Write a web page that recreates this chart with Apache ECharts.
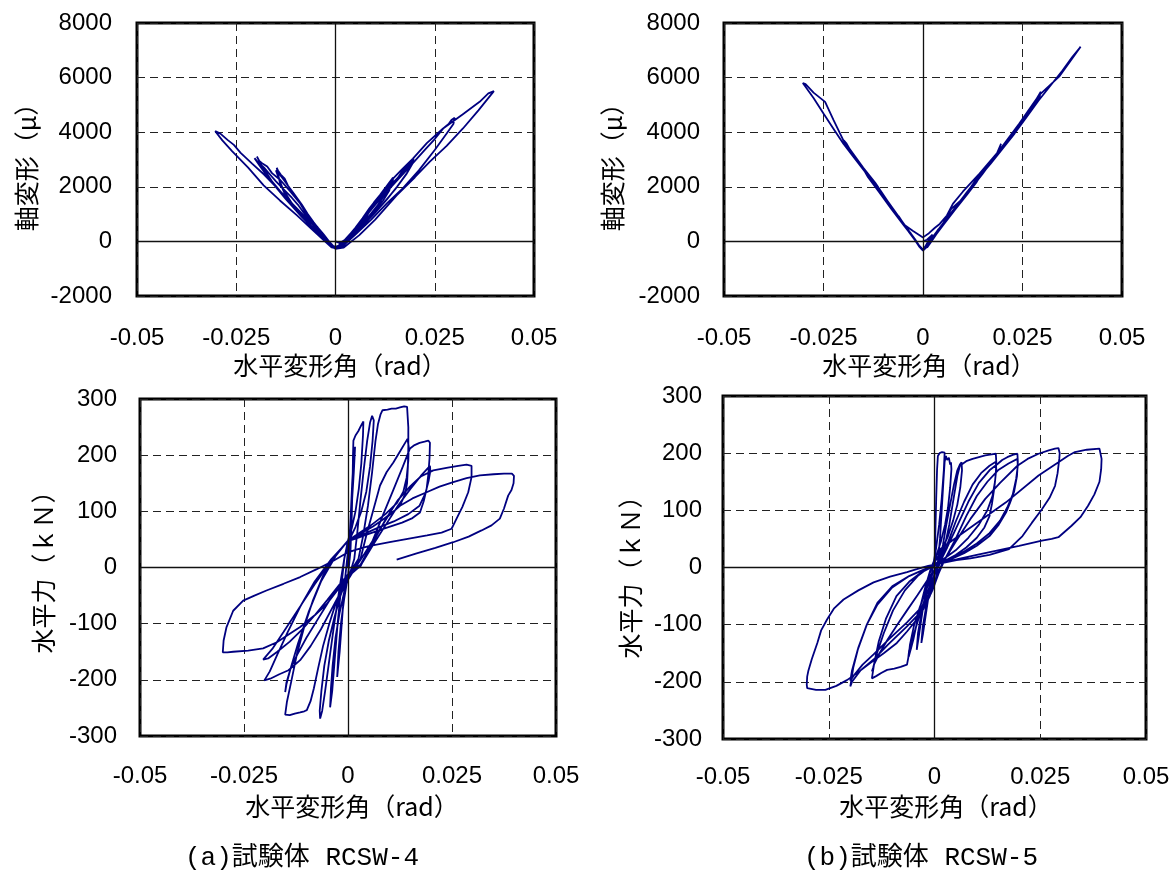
<!DOCTYPE html>
<html><head><meta charset="utf-8">
<script src="https://cdn.jsdelivr.net/npm/echarts@6/dist/echarts.min.js"></script>
<style>html,body{margin:0;padding:0;background:#fff}#c{width:1175px;height:873px}</style>
</head><body><div id="c"></div>
<script>
// tick values
const driftTicks = [-0.05, -0.025, 0, 0.025, 0.05];
const axialTicks = [-2000, 0, 2000, 4000, 6000, 8000];
const forceTicks = [-300, -200, -100, 0, 100, 200, 300];
const captions = ['(a)試験体 RCSW-4', '(b)試験体 RCSW-5'];
const xName = '水平変形角（rad）';
const axialName = '軸変形（μ）';
const forceName = '水平力（ｋＮ）';

// RCSW-4 : drift (rad) vs axial strain (μ)
const rcsw4Axial = [
[0,0],[0.0008,-50],[0.0015,-20],[0.0022,40],[0.0015,-60],[0.0008,-150],[0,-200],[-0.0008,-150],[-0.0016,-60],[-0.0026,50],
[-0.0018,-80],[-0.001,-180],[0,-240],[0.001,-200],[0.002,-80],[0.003,60],[0.0037,180],
[0.0028,80],[0.0018,-80],[0.0008,-200],[0,-250],[-0.001,-170],[-0.002,-20],[-0.0032,170],[-0.0043,360],
[-0.0033,250],[-0.0022,80],[-0.001,-120],[0,-250],[0.0012,-200],[0.0025,-40],[0.004,200],[0.0052,400],[0.0061,560],
[0.005,450],[0.0038,250],[0.0025,50],[0.0012,-150],[0,-260],[-0.0012,-150],[-0.0025,30],[-0.004,260],[-0.0055,560],[-0.0067,820],
[-0.0058,720],[-0.0045,520],[-0.003,260],[-0.0015,-20],[0,-260],
[0.0012,-220],[0.003,0],[0.005,300],[0.0075,700],[0.0098,1100],[0.012,1500],[0.0135,1850],[0.0145,2338],
[0.0142,2300],[0.0135,2150],[0.0125,1950],[0.0112,1700],[0.0098,1450],[0.0085,1150],[0.007,850],[0.0055,550],[0.004,300],[0.0025,50],[0.0012,-150],[0,-270],
[-0.0012,-180],[-0.003,50],[-0.005,350],[-0.0075,750],[-0.01,1150],[-0.0125,1650],[-0.014,2150],[-0.0148,2697],
[-0.0145,2600],[-0.0138,2450],[-0.0128,2300],[-0.012,2050],[-0.0105,1750],[-0.009,1450],[-0.0075,1100],[-0.006,800],[-0.0045,500],[-0.003,220],[-0.0015,-50],[0,-260],
[0.0012,-200],[0.003,50],[0.0055,400],[0.008,850],[0.0105,1300],[0.0128,1800],[0.014,2150],[0.0146,2280],
[0.013,2000],[0.0115,1750],[0.01,1480],[0.0085,1200],[0.0068,850],[0.005,500],[0.003,150],[0.0015,-100],[0,-260],
[-0.0012,-180],[-0.0035,150],[-0.006,550],[-0.0085,950],[-0.011,1400],[-0.0132,1900],[-0.0145,2400],[-0.015,2600],
[-0.0142,2480],[-0.013,2250],[-0.0115,1950],[-0.01,1650],[-0.0085,1350],[-0.007,1000],[-0.0055,700],[-0.004,420],[-0.0025,150],[-0.001,-120],[0,-260],
[0.0015,-180],[0.004,150],[0.007,600],[0.01,1050],[0.013,1550],[0.0155,2000],[0.018,2500],[0.0197,3034],
[0.0192,2980],[0.0185,2850],[0.0172,2650],[0.0158,2350],[0.0145,2150],[0.013,1850],[0.0112,1550],[0.0095,1250],[0.0078,950],[0.006,600],[0.004,300],[0.002,0],[0.0005,-250],
[-0.001,-200],[-0.004,250],[-0.008,850],[-0.012,1500],[-0.016,2200],[-0.0185,2750],[-0.0198,3108],
[-0.0192,2950],[-0.0185,2867],[-0.0178,2800],[-0.0172,2741],[-0.016,2500],[-0.0139,2250],[-0.0115,1850],[-0.0089,1391],[-0.0075,1050],[-0.0064,774],[-0.0039,405],[-0.002,50],[0,-270],
[0.0015,-200],[0.0045,200],[0.008,750],[0.0115,1300],[0.015,1900],[0.0178,2450],[0.0198,2950],
[0.0185,2800],[0.017,2550],[0.0155,2300],[0.014,2080],[0.012,1750],[0.01,1400],[0.008,1000],[0.006,650],[0.004,320],[0.002,0],[0.0005,-260],
[-0.001,-200],[-0.0045,300],[-0.0085,900],[-0.0125,1550],[-0.0165,2250],[-0.019,2750],[-0.0204,3050],
[-0.0195,2900],[-0.018,2700],[-0.0165,2450],[-0.015,2200],[-0.013,1900],[-0.011,1600],[-0.0095,1350],[-0.008,1050],[-0.0065,800],[-0.005,550],[-0.003,200],[-0.0012,-100],[0,-270],
[0.0015,-220],[0.005,250],[0.009,800],[0.013,1400],[0.017,1950],[0.021,2600],[0.025,3350],[0.028,3950],[0.0297,4300],[0.030,4525],
[0.0292,4450],[0.0285,4300],[0.0272,4150],[0.025,3750],[0.0225,3350],[0.02,2950],[0.0175,2550],[0.015,2150],[0.0125,1750],[0.01,1350],[0.0075,900],[0.005,450],[0.0025,50],[0.0005,-260],
[-0.001,-220],[-0.003,50],[-0.006,450],[-0.0097,954],[-0.014,1500],[-0.0181,2055],[-0.022,2700],[-0.026,3300],[-0.0285,3700],[-0.0303,4037],
[-0.0298,4000],[-0.029,3950],[-0.0285,3900],[-0.0272,3720],[-0.0256,3536],[-0.0239,3240],[-0.021,2850],[-0.018,2450],[-0.015,2000],[-0.012,1550],[-0.009,1100],[-0.006,650],[-0.003,200],[-0.001,-150],[0,-270],
[0.002,-230],[0.006,230],[0.01,800],[0.0154,1688],[0.02,2350],[0.0237,2911],[0.028,3500],[0.0321,4136],[0.036,4800],[0.0399,5505],
[0.0385,5420],[0.0363,5113],[0.032,4650],[0.0271,4136],[0.023,3600],[0.0195,3034],[0.0165,2600],[0.0137,2177],[0.01,1450],[0.007,709],[0.0045,300],[0.0025,0],[0.001,-200]
];

// RCSW-5 : drift (rad) vs axial strain (μ)
const rcsw5Axial = [
[0,0],[0.001,60],[0.0024,250],[0.0015,50],[0.0005,-200],[0,-300],[-0.001,-150],[-0.002,80],[-0.0031,300],
[-0.002,50],[-0.001,-180],[0,-320],
[0.001,-150],[0.002,60],[0.003,260],[0.0039,450],[0.003,230],[0.002,30],[0.001,-180],[0,-320],
[-0.001,-160],[-0.002,60],[-0.003,270],[-0.0042,510],[-0.003,250],[-0.002,40],[-0.001,-180],[0,-330],
[0.001,-140],[0.0025,150],[0.004,450],[0.0055,750],[0.0064,930],[0.005,620],[0.0035,320],[0.002,40],[0.001,-170],[0,-330],
[-0.001,-150],[-0.0025,170],[-0.004,480],[-0.0052,720],[-0.0061,920],[-0.005,660],[-0.0035,340],[-0.002,40],[-0.001,-180],[0,-330],
[0.001,-130],[0.003,270],[0.005,650],[0.0071,1190],[0.0075,1150],[0.0095,1500],[0.012,1980],[0.0135,2300],[0.0146,2533],
[0.0148,2450],[0.0135,2200],[0.012,1900],[0.01,1520],[0.008,1150],[0.006,780],[0.004,400],[0.002,20],[0.001,-200],[0,-340],
[-0.001,-150],[-0.003,250],[-0.005,660],[-0.0075,1129],[-0.01,1650],[-0.0125,2150],[-0.014,2450],[-0.015,2660],
[-0.0145,2550],[-0.013,2250],[-0.011,1850],[-0.009,1450],[-0.007,1050],[-0.005,650],[-0.003,250],[-0.0015,-60],[0,-340],
[0.0012,-120],[0.004,450],[0.007,1030],[0.01,1600],[0.0125,2050],[0.0145,2420],[0.0135,2180],[0.011,1700],[0.008,1150],[0.005,580],[0.0025,100],[0.001,-200],[0,-340],
[-0.001,-140],[-0.004,470],[-0.0075,1150],[-0.011,1880],[-0.0148,2600],[-0.0138,2350],[-0.011,1800],[-0.008,1200],[-0.005,620],[-0.0025,150],[-0.001,-180],[0,-340],
[0.001,-120],[0.004,460],[0.008,1220],[0.012,1980],[0.016,2740],[0.0185,3200],[0.0196,3576],
[0.019,3300],[0.017,2880],[0.015,2480],[0.012,1920],[0.009,1350],[0.006,780],[0.003,220],[0.001,-200],[0,-340],
[-0.001,-140],[-0.004,480],[-0.008,1290],[-0.012,2100],[-0.015,2660],[-0.0175,3150],[-0.0192,3581],[-0.0199,3700],
[-0.019,3450],[-0.017,3050],[-0.0145,2550],[-0.012,2050],[-0.009,1450],[-0.006,850],[-0.003,250],[-0.001,-170],[0,-340],
[0.001,-120],[0.005,650],[0.009,1410],[0.013,2170],[0.017,2930],[0.0196,3420],
[0.0185,3150],[0.016,2680],[0.013,2110],[0.01,1540],[0.007,980],[0.004,400],[0.0015,-120],[0,-340],
[-0.001,-140],[-0.005,680],[-0.009,1500],[-0.013,2300],[-0.017,3050],[-0.0199,3620],
[-0.019,3400],[-0.0165,2950],[-0.0135,2400],[-0.0105,1800],[-0.0075,1180],[-0.0045,560],[-0.002,50],[0,-340],
[0.001,-120],[0.005,650],[0.01,1600],[0.015,2550],[0.0196,3400],[0.023,4050],[0.0265,4720],[0.0296,5479],
[0.0293,5300],[0.027,4850],[0.024,4250],[0.021,3680],[0.018,3100],[0.015,2500],[0.012,1930],[0.009,1380],[0.006,800],[0.003,230],[0.001,-180],[0,-340],
[-0.001,-140],[-0.005,680],[-0.0075,1129],[-0.01,1700],[-0.0142,2478],[-0.0175,3100],[-0.02,3581],[-0.0225,4130],[-0.025,4684],[-0.0275,5250],[-0.0302,5800],
[-0.0295,5760],[-0.0275,5450],[-0.0246,5110],[-0.0225,4450],[-0.02,3700],[-0.0175,3200],[-0.015,2700],[-0.012,2150],[-0.009,1500],[-0.0065,950],[-0.005,640],[-0.0025,380],[0,147],
[0.0015,300],[0.003,500],[0.0042,640],[0.006,950],[0.0075,1375],[0.01,1820],[0.0142,2480],[0.0192,3338],[0.0242,4320],[0.0292,5361],[0.0342,6035],[0.037,6600],[0.0396,7132],
[0.0392,7080],[0.0375,6750],[0.035,6250],[0.032,5700],[0.029,5150],[0.026,4550],[0.023,3950],[0.02,3400],[0.017,2850],[0.014,2330],[0.011,1800],[0.008,1200],[0.005,620],[0.0025,80],[0.001,-230]
];

// RCSW-4 : drift (rad) vs lateral force (kN)
const rcsw4Force = [
[0,0],[0.0003,40],[0.0007,100],[0.001,150],[0.0013,190],[0.0017,215],
[0.0014,170],[0.0009,110],[0.0004,60],[0,30],[-0.0007,-20],[-0.0014,-90],[-0.002,-150],[-0.0026,-195],
[-0.0023,-150],[-0.0017,-100],[-0.0009,-55],[0,-15],[0.0006,30],
[0.0009,90],[0.0011,150],[0.0012,200],[0.0013,226],[0.0018,235],[0.0025,243],[0.0031,252],[0.0037,260],
[0.0036,235],[0.0032,185],[0.0026,140],[0.0018,100],[0.0009,70],[0,48],[-0.0009,15],[-0.0017,-40],[-0.0025,-100],[-0.0032,-165],[-0.0038,-220],[-0.0043,-249],
[-0.0041,-215],[-0.0037,-175],[-0.003,-125],[-0.002,-80],[-0.0008,-40],[0.0005,-10],[0.0015,15],
[0.0022,60],[0.003,120],[0.0038,175],[0.0046,225],[0.0053,258],[0.0058,270],[0.0061,273],[0.0062,262],
[0.0059,225],[0.0053,180],[0.0044,135],[0.0032,100],[0.0018,72],[0.0005,52],[-0.0008,20],[-0.002,-35],[-0.0033,-100],[-0.0045,-165],[-0.0055,-220],[-0.0062,-255],[-0.0067,-269],[-0.0068,-255],
[-0.0064,-220],[-0.0057,-175],[-0.0046,-130],[-0.0033,-90],[-0.0018,-50],[-0.0003,-20],[0.0012,0],[0.0025,15],
[0.0036,55],[0.0048,110],[0.0058,170],[0.0066,225],[0.0072,255],[0.0078,272],[0.0083,280],[0.0095,281],[0.0105,283],[0.0115,283],[0.0125,285],[0.0135,287],[0.0142,286],[0.0145,283],
[0.0145,250],[0.0145,215],[0.0144,180],[0.0142,150],[0.0137,130],[0.0126,112],[0.011,100],[0.0085,86],[0.006,73],[0.003,60],[0,48],[-0.003,22],[-0.006,-15],[-0.0085,-60],[-0.0105,-105],[-0.0123,-155],[-0.0137,-205],[-0.0147,-240],[-0.0151,-262],
[-0.014,-263],[-0.0128,-260],[-0.0115,-258],[-0.0105,-256],[-0.0099,-254],
[-0.009,-238],[-0.0082,-215],[-0.0072,-180],[-0.006,-140],[-0.0045,-100],[-0.003,-65],[-0.0012,-30],[0.0005,-8],[0.002,5],[0.003,15],
[0.0045,60],[0.006,100],[0.0077,146],[0.0093,170],[0.0109,187],[0.0126,208],[0.0143,229],[0.0146,215],
[0.0145,190],[0.0141,160],[0.0133,135],[0.0118,115],[0.009,95],[0.0055,75],[0.002,58],[0,48],[-0.003,20],[-0.0065,-25],[-0.0095,-80],[-0.012,-135],[-0.0138,-180],[-0.0148,-208],[-0.0151,-222],[-0.0148,-205],
[-0.0138,-180],[-0.0122,-155],[-0.01,-125],[-0.0075,-95],[-0.005,-65],[-0.0025,-35],[0,-12],[0.003,2],
[0.0055,40],[0.0085,95],[0.011,140],[0.0132,180],[0.0149,212],[0.016,218],[0.0172,222],[0.0184,224],[0.0193,226],[0.0197,222],
[0.0196,195],[0.0193,165],[0.0189,140],[0.0182,118],[0.0173,98],[0.0155,88],[0.013,80],[0.009,70],[0.005,60],[0.002,52],[0,47],[-0.004,15],[-0.008,-25],[-0.0115,-70],[-0.0145,-115],[-0.017,-155],[-0.0188,-185],[-0.0201,-201],
[-0.0187,-198],[-0.0165,-190],[-0.0143,-183],[-0.0115,-165],[-0.009,-140],[-0.0065,-110],[-0.004,-75],[-0.0015,-40],[0.001,-10],[0.003,3],
[0.006,40],[0.009,75],[0.012,110],[0.015,140],[0.0175,163],[0.0197,181],[0.0198,172],
[0.0194,155],[0.0186,132],[0.0172,110],[0.0145,95],[0.011,82],[0.007,70],[0.003,57],[0,48],[-0.004,12],[-0.008,-30],[-0.012,-75],[-0.0155,-115],[-0.0182,-145],[-0.0204,-164],
[-0.0192,-162],[-0.017,-150],[-0.014,-132],[-0.011,-110],[-0.008,-85],[-0.005,-58],[-0.002,-30],[0.001,-5],[0.003,5],
[0.006,45],[0.009,85],[0.012,120],[0.015,145],[0.0175,162],[0.0205,173],[0.024,178],[0.0265,181],[0.0285,183],[0.0297,181],
[0.0297,161],[0.0289,134],[0.0275,108],[0.0261,87],[0.0249,69],[0.0225,62],[0.019,57],[0.015,52],[0.01,45],[0.005,38],[0.002,32],[0,27],[-0.0035,12],[-0.0075,-3],[-0.0115,-17],[-0.0155,-29],[-0.0196,-41],[-0.0225,-50],[-0.0252,-59],[-0.0276,-77],[-0.0292,-106],[-0.0299,-130],[-0.0301,-151],
[-0.029,-151],[-0.0276,-150],[-0.024,-148],[-0.0204,-144],[-0.0171,-133],[-0.014,-118],[-0.0115,-106],[-0.008,-85],[-0.0051,-65],[-0.0025,-40],[0,-15],[0.002,2],[0.004,25],
[0.007,60],[0.0095,90],[0.0125,110],[0.0155,123],[0.0189,134],[0.022,144],[0.0253,152],[0.0285,159],[0.0317,164],[0.035,166],[0.0375,167],[0.0394,167],[0.0399,163],
[0.0398,150],[0.0393,138],[0.0385,128],[0.0375,105],[0.0365,87],[0.0345,75],[0.0321,66],[0.029,55],[0.0253,45],[0.021,35],[0.0165,25],[0.0117,14]
];

// RCSW-5 : drift (rad) vs lateral force (kN)
const rcsw5Force = [
[0,0],[0.0002,60],[0.0004,120],[0.0006,170],[0.0008,195],[0.0012,200],[0.0018,202],[0.0024,201],
[0.0022,170],[0.0017,120],[0.0011,75],[0.0004,35],[-0.0004,0],[-0.0012,-40],[-0.002,-80],[-0.0027,-115],[-0.0031,-132],
[-0.0028,-105],[-0.002,-70],[-0.001,-40],[0,-15],[0.0008,10],
[0.0013,50],[0.0017,100],[0.0021,150],[0.0024,185],[0.0027,195],[0.003,188],[0.0034,192],[0.0037,180],[0.0039,184],[0.004,172],
[0.0037,140],[0.0032,105],[0.0025,75],[0.0015,45],[0.0005,22],[-0.0008,0],[-0.0018,-35],[-0.0028,-75],[-0.0036,-115],[-0.0042,-144],
[-0.0039,-115],[-0.0032,-85],[-0.0022,-55],[-0.001,-30],[0.0003,-8],[0.0012,10],
[0.002,40],[0.0028,75],[0.0037,110],[0.0046,145],[0.0054,170],[0.006,180],[0.0064,184],[0.0065,170],
[0.0061,140],[0.0054,110],[0.0044,82],[0.0032,55],[0.0018,32],[0.0005,15],[-0.001,-5],[-0.0022,-35],[-0.0034,-70],[-0.0044,-105],[-0.005,-126],[-0.0055,-140],[-0.0061,-156],
[-0.0058,-135],[-0.0048,-100],[-0.0035,-70],[-0.002,-40],[-0.0005,-12],[0.0012,10],
[0.0025,40],[0.0035,75],[0.0045,120],[0.0054,160],[0.006,178],[0.0064,181],[0.0075,186],[0.009,190],[0.0105,193],[0.012,196],[0.0135,198],[0.0145,199],
[0.0146,185],[0.0145,165],[0.0143,150],[0.0141,137],[0.0136,112],[0.013,90],[0.0118,70],[0.01,52],[0.0075,35],[0.005,22],[0.002,10],[0,3],[-0.003,-8],[-0.006,-25],[-0.009,-50],[-0.0115,-90],[-0.0132,-130],[-0.0142,-165],[-0.0148,-194],
[-0.0138,-190],[-0.0125,-184],[-0.0112,-179],[-0.0095,-177],[-0.008,-174],[-0.0065,-170],[-0.0062,-158],[-0.006,-145],[-0.0055,-132],[-0.005,-120],[-0.0042,-100],[-0.003,-70],[-0.0015,-40],[0,-12],[0.0015,10],
[0.003,40],[0.005,80],[0.007,115],[0.009,145],[0.011,165],[0.013,178],[0.0145,185],[0.0146,172],
[0.0143,150],[0.0137,125],[0.0125,100],[0.0105,75],[0.008,52],[0.005,30],[0.002,14],[-0.001,2],[-0.004,-15],[-0.007,-40],[-0.0098,-75],[-0.012,-115],[-0.0136,-150],[-0.0145,-175],[-0.0148,-182],
[-0.0142,-168],[-0.013,-150],[-0.011,-125],[-0.0088,-100],[-0.0065,-75],[-0.004,-48],[-0.0015,-20],[0.001,5],
[0.003,35],[0.0055,75],[0.008,115],[0.0105,148],[0.013,170],[0.0149,181],[0.016,188],[0.0172,193],[0.0185,197],[0.0196,199],
[0.0197,185],[0.0195,160],[0.0188,132],[0.0178,112],[0.0169,96],[0.0152,75],[0.013,55],[0.01,38],[0.007,25],[0.004,15],[0.001,7],[-0.002,-2],[-0.006,-15],[-0.01,-35],[-0.0135,-65],[-0.016,-100],[-0.018,-140],[-0.0192,-175],[-0.0199,-208],
[-0.0195,-200],[-0.0175,-180],[-0.0144,-161],[-0.011,-135],[-0.0065,-103],[-0.0026,-73],[-0.0005,-40],[0.001,-10],[0.0025,15],
[0.005,50],[0.0075,90],[0.01,125],[0.0125,150],[0.015,170],[0.0175,182],[0.0196,190],[0.0197,178],
[0.0193,155],[0.0185,128],[0.0172,105],[0.0155,82],[0.013,60],[0.01,42],[0.007,28],[0.004,17],[0.001,8],[-0.002,-2],[-0.006,-15],[-0.01,-33],[-0.0135,-62],[-0.016,-100],[-0.0182,-145],[-0.0195,-180],[-0.0199,-198],
[-0.019,-188],[-0.017,-170],[-0.0144,-152],[-0.011,-127],[-0.0065,-96],[-0.0026,-66],[-0.0005,-35],[0.001,-5],[0.0025,15],
[0.005,45],[0.0085,85],[0.012,120],[0.0155,148],[0.0196,178],[0.022,190],[0.0246,199],[0.027,205],[0.0285,208],[0.0293,209],
[0.0296,200],[0.0295,190],[0.0291,165],[0.0285,143],[0.0272,122],[0.0254,102],[0.023,78],[0.0208,55],[0.0176,32],[0.013,22],[0.0085,16],[0.0052,13],[0.002,8],[-0.0015,3],[-0.0042,-3],[-0.0065,-8],[-0.0105,-16],[-0.0144,-26],[-0.018,-40],[-0.0215,-56],[-0.0238,-72],[-0.0254,-91],[-0.0268,-110],[-0.0277,-132],[-0.029,-160],[-0.0298,-180],[-0.0301,-191],[-0.0302,-205],[-0.0301,-211],
[-0.028,-214],[-0.0258,-214],[-0.0232,-207],[-0.0207,-197],[-0.018,-183],[-0.0152,-167],[-0.012,-150],[-0.0089,-132],[-0.0065,-112],[-0.0042,-91],[-0.0025,-70],[-0.0011,-50],[0.0005,-15],[0.0013,32],
[0.0091,73],[0.0169,114],[0.0246,161],[0.0293,184],[0.0315,195],[0.0332,202],[0.036,206],[0.039,208],[0.0394,207],
[0.0395,190],[0.0394,172],[0.039,150],[0.0378,128],[0.0363,108],[0.0345,88],[0.0324,73],[0.0293,53],[0.0277,50],[0.0254,47],[0.02,38],[0.015,30],[0.01,22],[0.0052,14],[0.0021,9]
];

const FONT = '"Liberation Sans", Arial, sans-serif';
const CJK = '"Noto Sans CJK JP", sans-serif';
const CAPFONT = '26px "Liberation Mono", "Noto Sans CJK JP", monospace';
const NAVY = '#000080';

const grids = [
  {left:137, top:23, width:397, height:273},
  {left:724, top:23, width:398, height:273},
  {left:140, top:399, width:416, height:337},
  {left:723, top:396, width:423, height:343}
];
const yRanges = [
  {min:axialTicks[0], max:axialTicks[axialTicks.length-1], interval:axialTicks[1]-axialTicks[0]},
  {min:axialTicks[0], max:axialTicks[axialTicks.length-1], interval:axialTicks[1]-axialTicks[0]},
  {min:forceTicks[0], max:forceTicks[forceTicks.length-1], interval:forceTicks[1]-forceTicks[0]},
  {min:forceTicks[0], max:forceTicks[forceTicks.length-1], interval:forceTicks[1]-forceTicks[0]}
];
const yMargins = [25, 24, 23, 21];
const xMargins = [30, 30, 28, 26];
const datasets = [rcsw4Axial, rcsw5Axial, rcsw4Force, rcsw5Force];

const split = {show:true, lineStyle:{color:'#222', width:1, type:[8,5]}};

function txt(x, y, text, font, rot) {
  return {type:'text', x:x, y:y, rotation:rot || 0,
    style:{text:text, font:font, fill:'#000', align:'center', verticalAlign:'middle', textAlign:'center', textVerticalAlign:'middle'}};
}

const option = {
  animation:false,
  backgroundColor:'#fff',
  grid: grids.map(g => Object.assign({show:true, borderColor:'#000', borderWidth:3, backgroundColor:'transparent'}, g)),
  xAxis: grids.map((g,i) => ({
    type:'value', gridIndex:i, min:driftTicks[0], max:driftTicks[driftTicks.length-1], interval:driftTicks[1]-driftTicks[0],
    axisLine:{show:false}, axisTick:{show:false}, splitLine:split,
    axisLabel:{fontSize:24, fontFamily:FONT, color:'#000', margin:xMargins[i],
      formatter: v => String(Math.round(v*1000)/1000)}
  })),
  yAxis: grids.map((g,i) => Object.assign({
    type:'value', gridIndex:i,
    axisLine:{show:false}, axisTick:{show:false}, splitLine:split,
    axisLabel:{fontSize:24, fontFamily:FONT, color:'#000', margin:yMargins[i], formatter: v => String(v)}
  }, yRanges[i])),
  series: [].concat(
    datasets.map((d,i) => ({
      type:'line', xAxisIndex:i, yAxisIndex:i, data:[[0,0]], symbol:'none', z:1, silent:true,
      lineStyle:{opacity:0},
      markLine:{silent:true, symbol:'none', animation:false, label:{show:false},
        lineStyle:{color:'#111', width:1.3, type:'solid'},
        data:[{xAxis:0},{yAxis:0}]}
    })),
    datasets.map((d,i) => ({
      type:'line', xAxisIndex:i, yAxisIndex:i, data:d, symbol:'none', showSymbol:false, z:3,
      lineStyle:{color:NAVY, width:1.8}, silent:true, clip:true
    }))
  ),
  graphic: [
    txt(26, 161, axialName, '25px '+CJK, Math.PI/2),
    txt(612, 161, axialName, '25px '+CJK, Math.PI/2),
    txt(43, 566, forceName, '25px '+CJK, Math.PI/2),
    txt(630, 571, forceName, '25px '+CJK, Math.PI/2),
    txt(340, 365, xName, '25px '+CJK),
    txt(929, 365, xName, '25px '+CJK),
    txt(352, 806, xName, '25px '+CJK),
    txt(946, 806, xName, '25px '+CJK),
    txt(302, 858, captions[0], CAPFONT),
    txt(921, 858, captions[1], CAPFONT)
  ]
};
const chart = echarts.init(document.getElementById('c'), null, {renderer:'canvas'});
chart.setOption(option);
</script>
</body></html>
